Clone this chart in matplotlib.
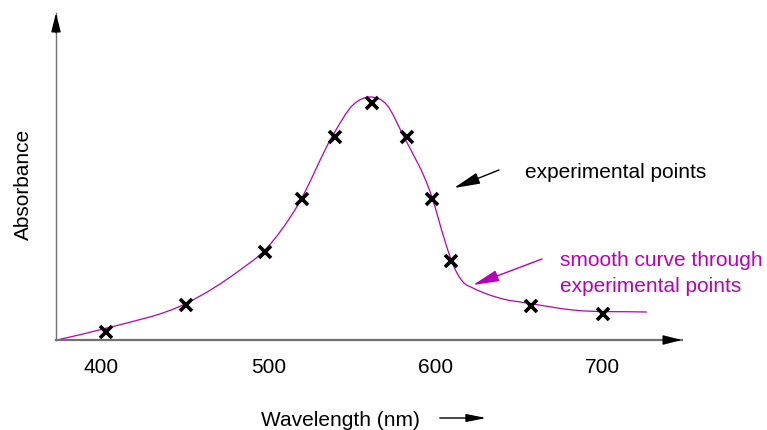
import matplotlib
matplotlib.use("Agg")
import matplotlib.pyplot as plt
from matplotlib.path import Path
from matplotlib.patches import PathPatch, FancyArrowPatch

plt.rcParams["font.family"] = ["Liberation Sans", "DejaVu Sans"]

# ── Data ─────────────────────────────────────────────────────
# experimental points
point_nm = [403, 451, 498, 520, 540, 562, 583, 598, 609, 657, 700]
point_abs = [0.032, 0.140, 0.352, 0.564, 0.812, 0.948, 0.812, 0.564, 0.316, 0.136, 0.104]

# hand-drawn smooth curve through the points (key points along the line)
curve_nm = [373.7, 403.6, 451.4, 483.1, 498.0, 517.7, 538.7, 550.6, 560.8,
            570.9, 580.5, 597.8, 605.6, 609.8, 612.8, 616.4, 622.3, 630.7,
            640.3, 654.6, 682.1, 726.3]
curve_abs = [0.000, 0.048, 0.148, 0.280, 0.360, 0.540, 0.820, 0.940, 0.972,
             0.940, 0.820, 0.572, 0.396, 0.312, 0.268, 0.232, 0.208, 0.184,
             0.164, 0.148, 0.120, 0.112]

tick_nm = [400, 500, 600, 700]

MAGENTA = "#b800b8"
X_MIN, X_MAX = 373.1, 747.3
Y_MIN, Y_MAX = 0.0, 1.308


def smooth_path(xs, ys):
    """Cubic Bezier path through every (x, y); slopes from 3-point parabolas."""
    n = len(xs)
    h = [xs[i + 1] - xs[i] for i in range(n - 1)]
    d = [(ys[i + 1] - ys[i]) / h[i] for i in range(n - 1)]
    m = [d[0]]
    for i in range(1, n - 1):
        m.append((d[i - 1] * h[i] + d[i] * h[i - 1]) / (h[i - 1] + h[i]))
    m.append(d[-1])
    verts = [(xs[0], ys[0])]
    codes = [Path.MOVETO]
    for i in range(n - 1):
        verts += [(xs[i] + h[i] / 3, ys[i] + m[i] * h[i] / 3),
                  (xs[i + 1] - h[i] / 3, ys[i + 1] - m[i + 1] * h[i] / 3),
                  (xs[i + 1], ys[i + 1])]
        codes += [Path.CURVE4] * 3
    return Path(verts, codes)


# ── Figure ───────────────────────────────────────────────────
fig = plt.figure(figsize=(7.67, 4.30), dpi=100)
ax = fig.add_axes([56 / 767, 90 / 430, (682 - 56) / 767, (340 - 13) / 430])
ax.set_xlim(X_MIN, X_MAX)
ax.set_ylim(Y_MIN, Y_MAX)

for side in ("top", "right"):
    ax.spines[side].set_visible(False)
ax.spines["bottom"].set_color("#707070")
ax.spines["bottom"].set_linewidth(1.6)
ax.spines["left"].set_color("#707070")
ax.spines["left"].set_linewidth(1.0)

ax.set_yticks([])
ax.set_xticks(tick_nm)
ax.set_xticklabels([str(t) for t in tick_nm], fontsize=15)
ax.tick_params(axis="x", length=0, pad=13)

# axis arrow heads
head = dict(arrowstyle="-|>,head_length=1.15,head_width=0.29", color="black",
            lw=1.0, shrinkA=0, shrinkB=0, mutation_scale=10)
ax.annotate("", xy=(1, 0), xytext=(0.97, 0), xycoords="axes fraction",
            textcoords="axes fraction", arrowprops=head, annotation_clip=False)
ax.annotate("", xy=(0, 1), xytext=(0, 0.94), xycoords="axes fraction",
            textcoords="axes fraction", arrowprops=head, annotation_clip=False)

# curve and points
ax.add_patch(PathPatch(smooth_path(curve_nm, curve_abs), facecolor="none",
                       edgecolor=MAGENTA, lw=0.9, clip_on=False))
ax.plot(point_nm, point_abs, linestyle="none", marker="x", markersize=8,
        markeredgewidth=2.6, color="black", clip_on=False)

# axis labels
fig.text(23 / 767, 1 - 184 / 430, "Absorbance", rotation=90, fontsize=15,
         ha="center", va="center")
fig.text(340 / 767, 1 - 420 / 430, "Wavelength (nm)", fontsize=15,
         ha="center", va="center")
fig.add_artist(FancyArrowPatch(
    (437 / 767, 1 - 418 / 430), (489 / 767, 1 - 418 / 430),
    transform=fig.transFigure, arrowstyle="-|>,head_length=1.5,head_width=0.3",
    mutation_scale=8, color="black", lw=1.0))

# annotations
arrow_kw = dict(arrowstyle="-|>,head_length=1.6,head_width=0.35",
                mutation_scale=10, lw=1.0, shrinkA=0, shrinkB=0)

fig.text(525 / 767, 1 - 173 / 430, "experimental points", fontsize=15,
         ha="left", va="center")
ax.annotate("", xy=(454 / 767, 1 - 188 / 430), xytext=(499 / 767, 1 - 170 / 430),
            xycoords="figure fraction", textcoords="figure fraction",
            arrowprops=dict(color="black", **arrow_kw), annotation_clip=False)

fig.text(560 / 767, 1 - 260 / 430, "smooth curve through", fontsize=15,
         color=MAGENTA, ha="left", va="center")
fig.text(560 / 767, 1 - 287 / 430, "experimental points", fontsize=15,
         color=MAGENTA, ha="left", va="center")
ax.annotate("", xy=(473 / 767, 1 - 285 / 430), xytext=(542 / 767, 1 - 259 / 430),
            xycoords="figure fraction", textcoords="figure fraction",
            arrowprops=dict(color=MAGENTA, **arrow_kw), annotation_clip=False)

fig.savefig("out.png", dpi=100)
